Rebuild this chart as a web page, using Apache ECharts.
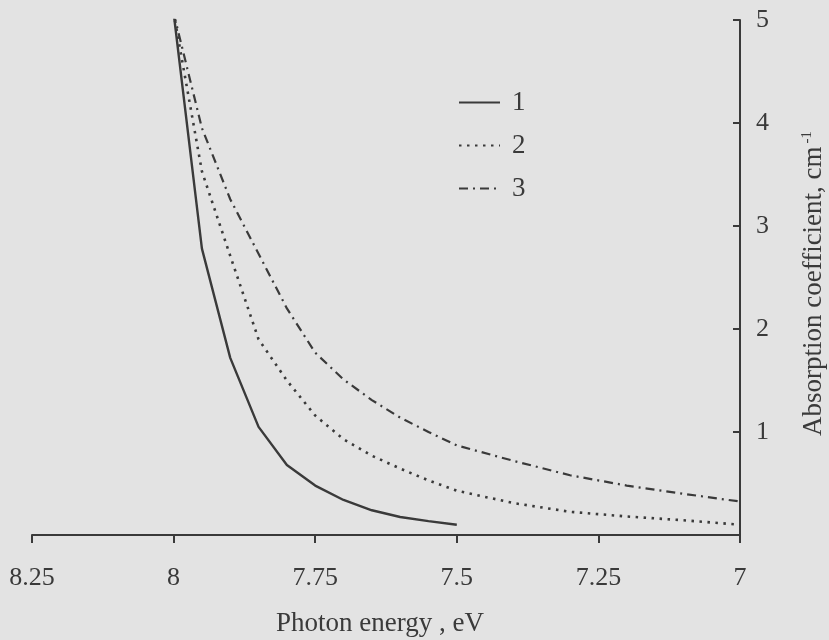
<!DOCTYPE html>
<html>
<head>
    <meta charset="UTF-8"/>
    <title>absorption</title>
    <script src="https://cdn.jsdelivr.net/npm/echarts@6/dist/echarts.min.js"></script>
    <style>
        html, body { margin: 0; padding: 0; background: #e3e3e3; }
        #chart { width: 829px; height: 640px; }
    </style>
</head>
<body>
<div id="chart"></div>
<script>
    // photon energy, eV
    var energy1 = [8.0, 7.95, 7.9, 7.85, 7.8, 7.75, 7.7, 7.65, 7.6, 7.55, 7.5];
    var energy23 = [8.0, 7.95, 7.9, 7.85, 7.8, 7.75, 7.7, 7.65, 7.6, 7.55, 7.5, 7.4, 7.3, 7.2, 7.1, 7.0];
    // absorption coefficient, cm^-1
    var curve1 = [5.07, 2.78, 1.72, 1.05, 0.68, 0.48, 0.34, 0.24, 0.175, 0.135, 0.10];
    var curve2 = [5.07, 3.53, 2.71, 1.90, 1.50, 1.16, 0.93, 0.77, 0.645, 0.53, 0.43, 0.31, 0.225, 0.18, 0.143, 0.10];
    var curve3 = [5.07, 3.95, 3.26, 2.73, 2.20, 1.77, 1.51, 1.31, 1.14, 1.00, 0.87, 0.72, 0.58, 0.48, 0.40, 0.325];
    var seriesNames = ['1', '2', '3'];

    var ink = '#3a3a3a';
    var font = '"Liberation Serif", "DejaVu Serif", serif';

    function pairs(xs, ys) {
        var out = [];
        for (var i = 0; i < xs.length; i++) {
            out.push([xs[i], ys[i]]);
        }
        return out;
    }

    var chart = echarts.init(document.getElementById('chart'));
    chart.setOption({
        backgroundColor: '#e3e3e3',
        animation: false,
        grid: { left: 32, right: 89, top: 20, bottom: 105, outerBoundsMode: 'none', containLabel: false },
        legend: {
            orient: 'vertical',
            left: 453,
            top: 84,
            itemWidth: 41,
            itemHeight: 14,
            itemGap: 16,
            data: seriesNames,
            itemStyle: { opacity: 0 },
            textStyle: { fontFamily: font, fontSize: 27, color: ink, padding: [0, 0, 0, 7] }
        },
        xAxis: {
            type: 'value',
            inverse: true,
            min: 7,
            max: 8.25,
            interval: 0.25,
            name: 'Photon energy , eV',
            nameLocation: 'middle',
            nameGap: 75,
            nameTextStyle: { fontFamily: font, fontSize: 27, color: ink, padding: [0, 12, 0, 0] },
            axisLine: { lineStyle: { color: ink, width: 2 } },
            axisTick: { show: true, inside: false, length: 8, lineStyle: { color: ink, width: 2 } },
            axisLabel: { fontFamily: font, fontSize: 26, color: ink, margin: 30 },
            splitLine: { show: false }
        },
        yAxis: {
            type: 'value',
            position: 'right',
            min: 0,
            max: 5,
            interval: 1,
            name: 'Absorption coefficient, cm{sup|-1}',
            nameLocation: 'middle',
            nameRotate: 90,
            nameGap: 60,
            nameTextStyle: {
                fontFamily: font, fontSize: 27, color: ink, padding: [0, 12, 0, 0],
                rich: { sup: { fontFamily: font, fontSize: 15, color: ink, verticalAlign: 'top', padding: [0, 0, 12, 3] } }
            },
            axisLine: { show: true, lineStyle: { color: ink, width: 2 } },
            axisTick: { show: true, inside: true, length: 7, lineStyle: { color: ink, width: 2 } },
            axisLabel: {
                fontFamily: font, fontSize: 26, color: ink, margin: 16,
                formatter: function (v) { return v === 0 ? '' : String(v); }
            },
            splitLine: { show: false }
        },
        series: [
            {
                name: seriesNames[0], type: 'line', symbol: 'none',
                data: pairs(energy1, curve1),
                lineStyle: { color: ink, width: 2.4, type: 'solid' },
                itemStyle: { color: ink }
            },
            {
                name: seriesNames[1], type: 'line', symbol: 'none',
                data: pairs(energy23, curve2),
                lineStyle: { color: ink, width: 2.6, type: [2.5, 5.5] },
                itemStyle: { color: ink }
            },
            {
                name: seriesNames[2], type: 'line', symbol: 'none',
                data: pairs(energy23, curve3),
                lineStyle: { color: ink, width: 2.2, type: [9, 5, 2, 5] },
                itemStyle: { color: ink }
            }
        ]
    });
</script>
</body>
</html>
